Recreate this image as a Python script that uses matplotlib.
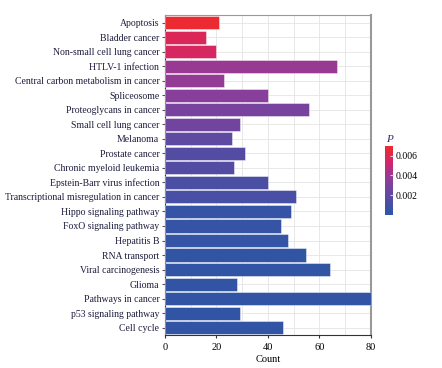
import matplotlib
matplotlib.use('Agg')
import matplotlib.pyplot as plt
from matplotlib.colors import LinearSegmentedColormap, Normalize
import matplotlib.cm as cm

# Пути KEGG, сверху вниз
pathways = ['Apoptosis', 'Bladder cancer', 'Non-small cell lung cancer', 'HTLV-1 infection',
            'Central carbon metabolism in cancer', 'Spliceosome', 'Proteoglycans in cancer',
            'Small cell lung cancer', 'Melanoma', 'Prostate cancer', 'Chronic myeloid leukemia',
            'Epstein-Barr virus infection', 'Transcriptional misregulation in cancer',
            'Hippo signaling pathway', 'FoxO signaling pathway', 'Hepatitis B', 'RNA transport',
            'Viral carcinogenesis', 'Glioma', 'Pathways in cancer', 'p53 signaling pathway',
            'Cell cycle']
counts = [21, 16, 20, 67, 23, 40, 56, 29, 26, 31, 27, 40, 51, 49, 45, 48, 55, 64, 28, 80, 29, 46]
p_values = [0.0070, 0.0060, 0.0058, 0.0040, 0.0039, 0.0036, 0.0030, 0.0027, 0.0020, 0.0016,
            0.0016, 0.0012, 0.0011, 0.0004, 0.0004, 0.0004, 0.0003, 0.0003, 0.0003, 0.0003,
            0.0003, 0.0003]

plt.rcParams['font.family'] = 'Liberation Serif'

cmap = LinearSegmentedColormap.from_list('p', ['#2B56A6', '#5A4BA2', '#873F9C', '#D02670', '#EE2A2A'])
norm = Normalize(vmin=0.0, vmax=0.0072)

fig = plt.figure(figsize=(4.42, 3.68), dpi=100)
ax = fig.add_axes([0.373, 0.09, 0.466, 0.868])

y = list(range(len(pathways)))
ax.barh(y, counts, height=0.9, color=cmap(norm(p_values)), edgecolor=(1, 1, 1, 0.5),
        linewidth=0.6, zorder=3)
ax.set_ylim(len(pathways) - 0.5, -0.5)
ax.set_xlim(0, 80)
ax.set_yticks(y)
ax.set_yticklabels(pathways, fontsize=7, color='#1c1c3c')
ax.set_xticks([0, 20, 40, 60, 80])
ax.set_xticks([10, 30, 50, 70], minor=True)
ax.tick_params(axis='x', labelsize=7.5, length=2.5, color='#333333')
ax.tick_params(axis='y', length=2.5, color='#555555', pad=1.5)
ax.tick_params(axis='x', which='minor', length=0)
ax.grid(True, which='both', color='#e4e4e4', linewidth=0.6, zorder=0)
ax.set_xlabel('Count', fontsize=7.5, labelpad=2)
for side in ['top', 'right']:
    ax.spines[side].set_color('#999999')
ax.spines['right'].set_linewidth(1.5)
ax.spines['left'].set_color('#333333')
ax.spines['bottom'].set_color('#333333')

cax = fig.add_axes([0.871, 0.416, 0.018, 0.188])
sm = cm.ScalarMappable(norm=Normalize(vmin=0.0, vmax=0.0070), cmap=cmap)
cb = fig.colorbar(sm, cax=cax, ticks=[0.002, 0.004, 0.006])
cb.ax.set_yticklabels(['0.002', '0.004', '0.006'])
cb.ax.tick_params(labelsize=7, length=2, color='#cccccc', direction='in', pad=2)
cb.outline.set_visible(False)
cb.ax.set_title('P', fontsize=8, style='italic', color='#2b2b6b', pad=3)

plt.savefig('out.png', dpi=100)
